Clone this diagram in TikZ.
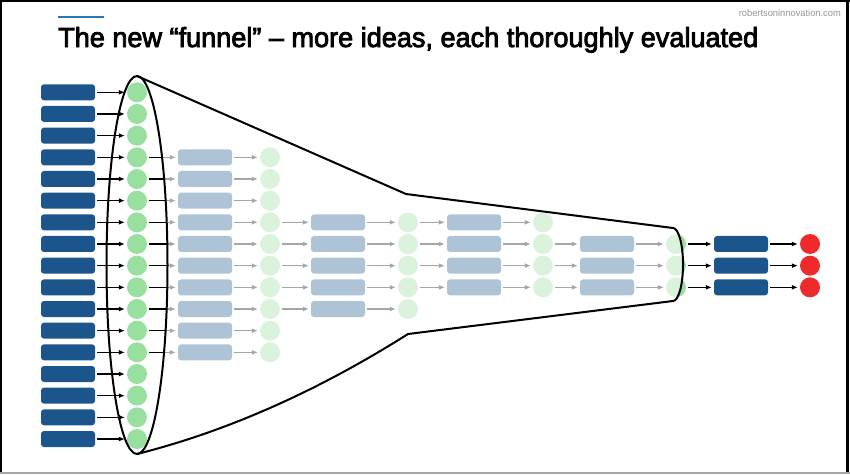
\documentclass[tikz,border=0pt]{standalone}
\usepackage{fontspec}
\setmainfont{Liberation Sans}
\newfontfamily\titlefont{Liberation Sans}[FakeBold=3]
\usetikzlibrary{arrows.meta}
\definecolor{dblue}{RGB}{28,85,140}
\definecolor{bgreen}{RGB}{152,223,160}
\definecolor{bred}{RGB}{238,42,42}
\definecolor{topblue}{RGB}{46,117,182}
\definecolor{urlgray}{RGB}{150,150,150}
\tikzset{
  dbox/.style={fill=dblue, rounded corners=3pt, minimum width=54pt, minimum height=16pt, inner sep=0pt, draw=none},
  gcirc/.style={circle, fill=bgreen, minimum size=20pt, inner sep=0pt, draw=none},
  rcirc/.style={circle, fill=bred, minimum size=20pt, inner sep=0pt, draw=none},
  arr/.style={-{Latex[length=6pt,width=5pt]}, line width=1.1pt, black, shorten <=1.5pt, shorten >=2pt},
  outline/.style={line width=2pt, black, line join=round},
}
\begin{document}
\begin{tikzpicture}[x=1pt,y=-1pt]
\useasboundingbox (0,0) rectangle (850,474);
% frame
\draw[line width=2pt] (1,0) -- (1,474);
\draw[line width=1.5pt] (0,0.8) -- (850,0.8);
\draw[line width=3pt] (847.5,0) -- (847.5,474);
\draw[line width=1.5pt, black!35] (0,472.8) -- (850,472.8);
% header
\draw[topblue, line width=2pt] (58,17) -- (104,17);
\node[anchor=base west, inner sep=0pt] (title) at (58,47)
  {\resizebox{700pt}{20pt}{\titlefont The new “funnel” – more ideas, each thoroughly evaluated}};
\node[anchor=base east, inner sep=0pt, text=urlgray] (url) at (841,16)
  {\resizebox{102pt}{7pt}{robertsoninnovation.com}};
% stage 1
\foreach \r in {1,...,17} {
  \pgfmathsetmacro\yy{92.3+(\r-1)*21.67}
  \node[dbox] (b1-\r) at (68,\yy) {};
  \node[gcirc] (c1-\r) at (137,\yy) {};
  \draw[arr] (b1-\r) -- (c1-\r);
}
% stages 2-5
\foreach \s/\bx/\cx/\ra/\rb in {2/205/270/4/13, 3/338/408/7/11, 4/474/543/7/10, 5/607/676/8/10} {
  \pgfmathtruncatemacro\p{\s-1}
  \foreach \r in {\ra,...,\rb} {
    \pgfmathsetmacro\yy{92.3+(\r-1)*21.67}
    \node[dbox] (b\s-\r) at (\bx,\yy) {};
    \node[gcirc] (c\s-\r) at (\cx,\yy) {};
    \draw[arr] (c\p-\r) -- (b\s-\r);
    \draw[arr] (b\s-\r) -- (c\s-\r);
  }
}
% stage 6
\foreach \r in {8,9,10} {
  \pgfmathsetmacro\yy{92.3+(\r-1)*21.67}
  \node[dbox] (b6-\r) at (741,\yy) {};
  \node[rcirc] (c6-\r) at (810,\yy) {};
  \draw[arr] (c5-\r) -- (b6-\r);
  \draw[arr] (b6-\r) -- (c6-\r);
}
% funnel
\coordinate (ftop) at (137,76);
\coordinate (fbot) at (137,454);
\coordinate (kt) at (406,194);
\coordinate (kb) at (408,334);
\coordinate (rt) at (673,228);
\coordinate (rb) at (673,301);
\fill[white, opacity=0.65]
  (ftop) -- (kt) -- (rt) arc[start angle=-90, end angle=90, x radius=10, y radius=36.5]
  -- (kb) .. controls (317.3,391.3) and (227,431.3) .. (fbot)
  arc[start angle=90, end angle=-90, x radius=30.5, y radius=189] -- cycle;
\draw[outline] (137,265) ellipse [x radius=30.5, y radius=189];
\draw[outline] (ftop) -- (kt) -- (rt) arc[start angle=-90, end angle=90, x radius=10, y radius=36.5]
  -- (kb) .. controls (317.3,391.3) and (227,431.3) .. (fbot);
\end{tikzpicture}
\end{document}
